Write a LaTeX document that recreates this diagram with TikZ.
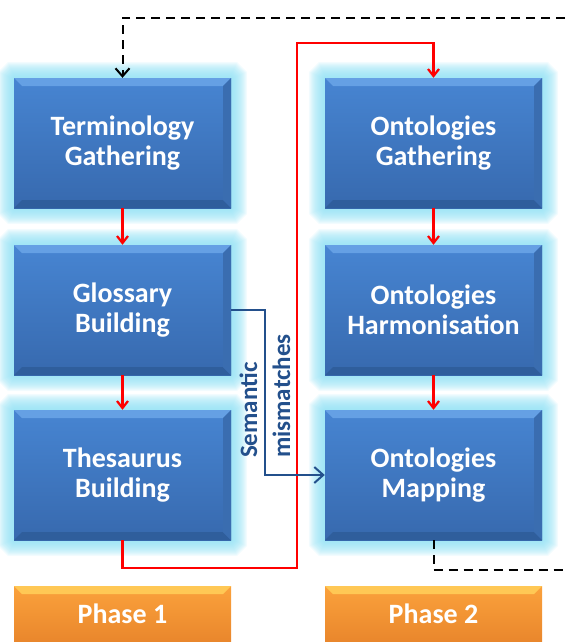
\documentclass[tikz,border=0pt]{standalone}
\usepackage{fontspec}
\setmainfont{Carlito}
\usetikzlibrary{positioning,arrows.meta,calc,backgrounds}
\definecolor{boxtop}{HTML}{4785D2}
\definecolor{boxbot}{HTML}{3769AE}
\definecolor{bevlight}{HTML}{65A0E4}
\definecolor{bevdark}{HTML}{2F5E9C}
\definecolor{bevside}{HTML}{3A6DB0}
\definecolor{glow}{HTML}{8EE0F4}
\definecolor{phtop}{HTML}{FBA23C}
\definecolor{phbot}{HTML}{E9862C}
\definecolor{phlight}{HTML}{FFC855}
\definecolor{linkblue}{HTML}{23508C}
\tikzset{stage/.style={rectangle,minimum width=217pt,minimum height=130pt,
            top color=boxtop,bottom color=boxbot,text=white,align=center,
            font=\bfseries\fontsize{28}{30}\selectfont,
            path picture={
              \fill[bevlight] (path picture bounding box.north west) -- (path picture bounding box.north east)
                -- ([shift={(-8pt,-8pt)}]path picture bounding box.north east) -- ([shift={(8pt,-8pt)}]path picture bounding box.north west) -- cycle;
              \fill[bevdark] (path picture bounding box.south west) -- (path picture bounding box.south east)
                -- ([shift={(-8pt,8pt)}]path picture bounding box.south east) -- ([shift={(8pt,8pt)}]path picture bounding box.south west) -- cycle;
              \fill[bevside] (path picture bounding box.north east) -- (path picture bounding box.south east)
                -- ([shift={(-8pt,8pt)}]path picture bounding box.south east) -- ([shift={(-8pt,-8pt)}]path picture bounding box.north east) -- cycle;
            }},
            halo/.style={draw=glow,opacity=0.1,rounded corners=1pt},
            phase/.style={rectangle,minimum width=217pt,minimum height=56pt,
            top color=phtop,bottom color=phbot,text=white,
            font=\bfseries\fontsize{28}{30}\selectfont,
            path picture={
              \fill[phlight] (path picture bounding box.north west) -- (path picture bounding box.north east)
                -- ([shift={(-8pt,-8pt)}]path picture bounding box.north east) -- ([shift={(8pt,-8pt)}]path picture bounding box.north west) -- cycle;
            }},
            flow/.style={draw=red,line width=2.2pt,-{Straight Barb[width=11pt,length=7pt]}},
            loopback/.style={draw=black,line width=2pt,dash pattern=on 9pt off 6pt,-{Straight Barb[width=14pt,length=8pt]}},
            link/.style={draw=linkblue,line width=2pt,-{Straight Barb[width=16pt,length=9pt]}}}
\begin{document}
\begin{tikzpicture}[x=1pt,y=-1pt]
\useasboundingbox (0,0) rectangle (566,642);
% phase 1
\node[stage] (term) at (122.5,143) {Terminology\\Gathering};
\node[stage] (gloss) at (122.5,310) {Glossary\\Building};
\node[stage] (thes) at (122.5,475) {Thesaurus\\Building};
% phase 2
\node[stage] (ogath) at (433.5,143) {Ontologies\\Gathering};
\node[stage] (oharm) at (433.5,310) {Ontologies\\Harmonisation};
\node[stage] (omap) at (433.5,475) {Ontologies\\Mapping};
\node[phase] (ph1) at (122.5,614) {Phase 1};
\node[phase] (ph2) at (433.5,614) {Phase 2};
% glow behind the blue boxes
\begin{scope}[on background layer]
\foreach \n in {term,gloss,thes,ogath,oharm,omap}
  \foreach \w in {2,4,...,32}
    \draw[halo,line width=\w pt] (\n.north west) rectangle (\n.south east);
\end{scope}
\coordinate (bend) at (297,43);
\coordinate (loopin) at (580,18);
\coordinate (loopout) at (580,570);
\draw[flow] (term) -- (gloss);
\draw[flow] (gloss) -- (thes);
\draw[flow] (ogath) -- (oharm);
\draw[flow] (oharm) -- (omap);
\draw[flow] (thes.south) -- ++(0,28) -| (bend) -| (ogath.north);
\draw[loopback] (loopin) -| (term.north);
\draw[loopback,-] (omap.south) |- (loopout);
\draw[link] (gloss.east) -- ++(34,0) |- (omap.west);
\node[rotate=90,align=left,text=linkblue,font=\bfseries\fontsize{25}{33}\selectfont] (lbl) at (265,396) {Semantic\\mismatches};
\end{tikzpicture}
\end{document}
